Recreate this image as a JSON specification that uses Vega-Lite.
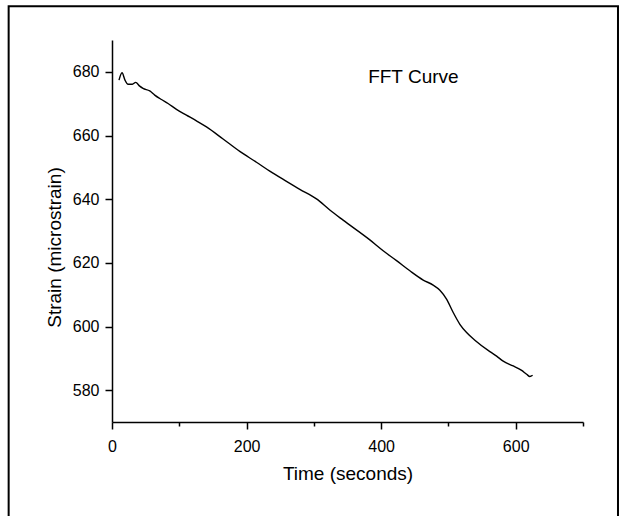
{
  "$schema": "https://vega.github.io/schema/vega-lite/v6.json",
  "width": 471,
  "height": 382,
  "autosize": {"type": "none"},
  "padding": {"left": 112, "top": 40, "right": 36, "bottom": 94},
  "background": "white",
  "config": {
    "view": {"stroke": null},
    "font": "Liberation Sans",
    "axis": {
      "domainColor": "black",
      "domainWidth": 1.5,
      "tickColor": "black",
      "tickWidth": 1.5,
      "labelColor": "black",
      "labelFont": "Liberation Sans",
      "labelFontSize": 16,
      "titleFont": "Liberation Sans",
      "titleFontSize": 19,
      "titleFontWeight": "normal",
      "titleColor": "black",
      "grid": false
    }
  },
  "layer": [
    {
      "data": {
        "values": [
          {"t": 10.4, "s": 677.4},
          {"t": 14.9, "s": 679.7},
          {"t": 19.3, "s": 677.4},
          {"t": 23.8, "s": 676.1},
          {"t": 30.3, "s": 676.1},
          {"t": 35.2, "s": 676.7},
          {"t": 41.2, "s": 675.5},
          {"t": 46.1, "s": 674.8},
          {"t": 56.1, "s": 674.0},
          {"t": 63.5, "s": 672.7},
          {"t": 73.5, "s": 671.3},
          {"t": 83.3, "s": 670.05},
          {"t": 95.8, "s": 668.2},
          {"t": 110.6, "s": 666.4},
          {"t": 125.5, "s": 664.6},
          {"t": 140.4, "s": 662.7},
          {"t": 165.1, "s": 658.9},
          {"t": 189.9, "s": 655.0},
          {"t": 214.7, "s": 651.6},
          {"t": 234.5, "s": 648.8},
          {"t": 259.3, "s": 645.6},
          {"t": 279.1, "s": 643.1},
          {"t": 303.9, "s": 640.1},
          {"t": 323.7, "s": 636.6},
          {"t": 343.5, "s": 633.4},
          {"t": 383.2, "s": 627.2},
          {"t": 403.0, "s": 623.8},
          {"t": 422.9, "s": 620.7},
          {"t": 442.7, "s": 617.5},
          {"t": 462.5, "s": 614.6},
          {"t": 477.3, "s": 613.0},
          {"t": 487.3, "s": 611.4},
          {"t": 497.2, "s": 608.6},
          {"t": 507.1, "s": 604.4},
          {"t": 517.0, "s": 600.7},
          {"t": 527.0, "s": 598.1},
          {"t": 539.3, "s": 595.7},
          {"t": 561.6, "s": 592.1},
          {"t": 571.6, "s": 590.7},
          {"t": 581.4, "s": 589.1},
          {"t": 596.3, "s": 587.6},
          {"t": 608.8, "s": 586.2},
          {"t": 616.2, "s": 585.0},
          {"t": 621.1, "s": 584.3},
          {"t": 625.1, "s": 584.7}
        ]
      },
      "mark": {"type": "line", "color": "black", "strokeWidth": 1.4, "interpolate": "monotone"},
      "encoding": {
        "x": {
          "field": "t",
          "type": "quantitative",
          "scale": {"domain": [0, 700], "nice": false, "zero": false},
          "axis": {
            "title": "Time (seconds)",
            "values": [0, 100, 200, 300, 400, 500, 600, 700],
            "labelExpr": "(datum.value % 200 === 0 && datum.value < 700) ? datum.label : ''",
            "tickSize": {"condition": {"test": "datum.value % 200 === 0 && datum.value < 700", "value": 7}, "value": 4},
            "labelPadding": 9,
            "labelFlush": false,
            "titlePadding": 10
          }
        },
        "y": {
          "field": "s",
          "type": "quantitative",
          "scale": {"domain": [570, 690], "nice": false, "zero": false},
          "axis": {
            "title": "Strain (microstrain)",
            "values": [580, 600, 620, 640, 660, 680],
            "tickSize": 7,
            "labelPadding": 6,
            "titlePadding": 8,
            "titleY": 207
          }
        }
      }
    },
    {
      "data": {"values": [{"label": "FFT Curve"}]},
      "mark": {"type": "text", "align": "left", "baseline": "alphabetic", "fontSize": 19, "font": "Liberation Sans", "fill": "black"},
      "encoding": {
        "text": {"field": "label"},
        "x": {"datum": 380.7, "type": "quantitative"},
        "y": {"datum": 676.4, "type": "quantitative"}
      }
    },
    {
      "data": {"values": [{"frame": "border"}]},
      "mark": {"type": "rect", "fill": null, "fillOpacity": 0, "stroke": "black", "strokeWidth": 2, "clip": false},
      "encoding": {
        "x": {"datum": -153.6, "type": "quantitative"},
        "x2": {"datum": 752},
        "y": {"datum": 700.6, "type": "quantitative"},
        "y2": {"datum": 539}
      }
    }
  ]
}
